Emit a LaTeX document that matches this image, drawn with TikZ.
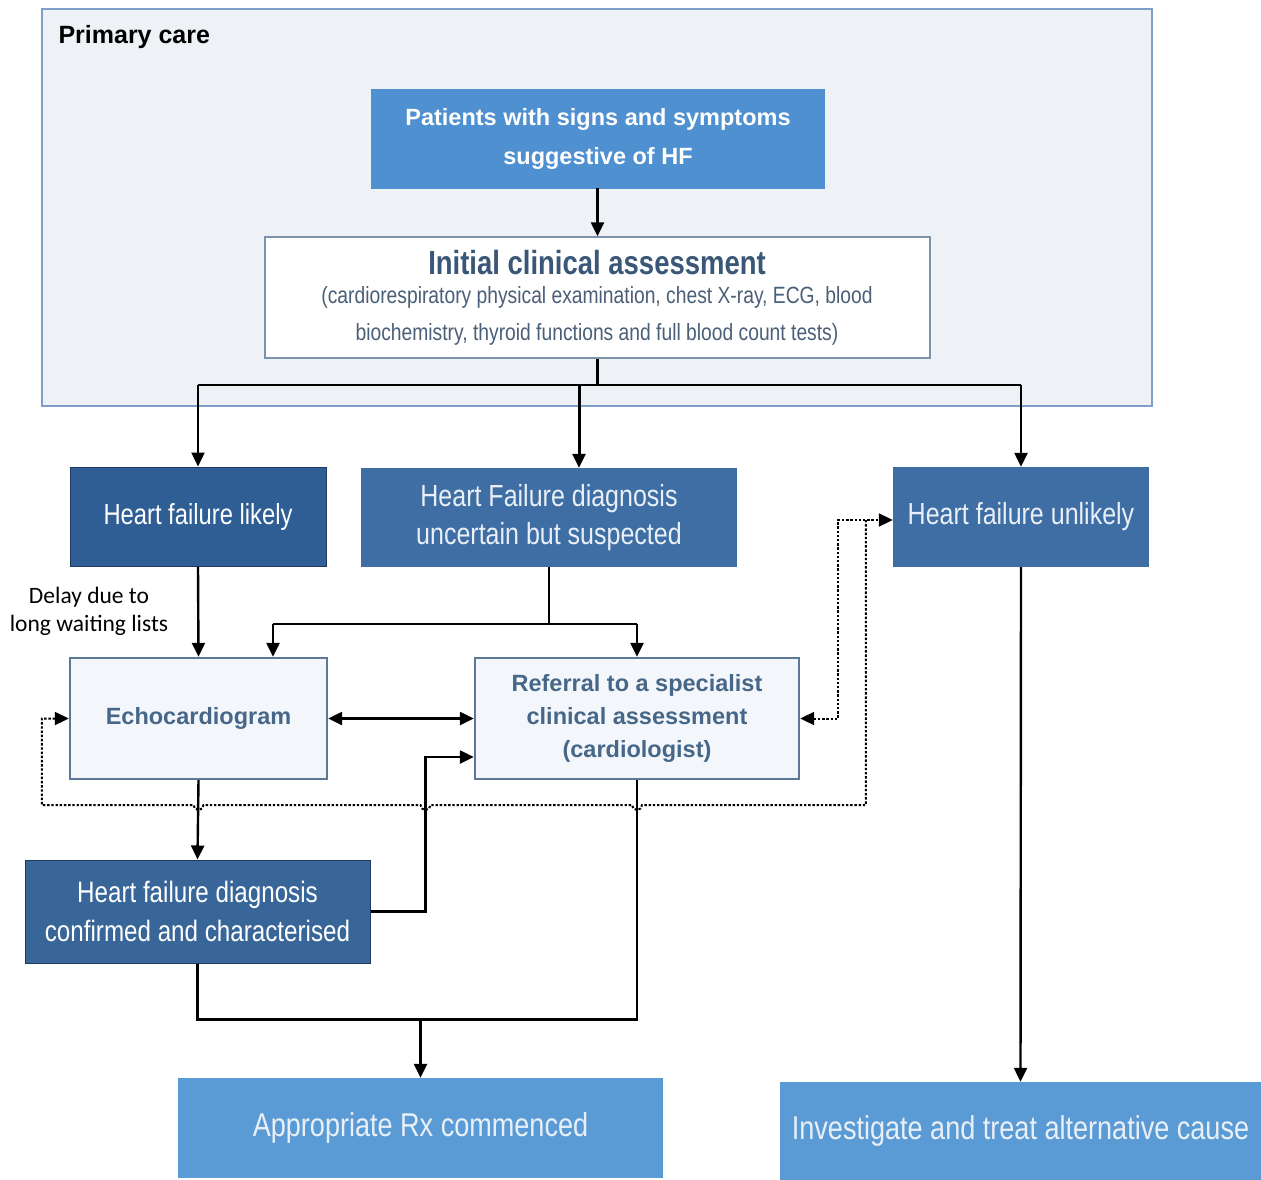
\documentclass[tikz,border=0pt]{standalone}
\usepackage{fontspec}
\setmainfont{Liberation Sans}
\newfontfamily\narrowfont{Liberation Sans}[FakeStretch=0.82]
\newfontfamily\delayfont{Carlito}
\usetikzlibrary{arrows.meta,calc}
\definecolor{pcfill}{HTML}{EEF1F5}
\definecolor{pcline}{HTML}{7F9FC8}
\definecolor{midblue}{HTML}{4F90D0}
\definecolor{lightblue}{HTML}{5B9BD5}
\definecolor{darkblue}{HTML}{2E5E93}
\definecolor{darkline}{HTML}{1F3A5E}
\definecolor{steelblue}{HTML}{3E6EA3}
\definecolor{paleline}{HTML}{5D7896}
\definecolor{palefill}{HTML}{F3F7FB}
\definecolor{titletext}{HTML}{3B5778}
\definecolor{boxtext}{HTML}{476789}
\definecolor{subtext}{HTML}{4A5F78}
\definecolor{softwhite}{HTML}{E9EFF7}
\begin{document}
\begin{tikzpicture}[x=1pt,y=-1pt,
  tip/.tip={Triangle[length=14pt,width=13pt]},
  box/.style={rectangle,inner sep=0pt,align=center},
  conn/.style={line width=2.4pt,-tip},
  plain/.style={line width=2.4pt},
  dots/.style={line width=2pt,dash pattern=on 2.4pt off 1.8pt},
  darkbox/.style={box,fill=darkblue,draw=darkline,line width=1pt,text=white},
  steelbox/.style={box,fill=steelblue,text=softwhite},
  palebox/.style={box,fill=palefill,draw=paleline,line width=2.4pt,text=boxtext},
  lightbox/.style={box,fill=lightblue,text=softwhite}]
\useasboundingbox (0,0) rectangle (1261,1180);
% primary care
\node[box,fill=pcfill,draw=pcline,line width=1.4pt,minimum width=1110pt,minimum height=397pt] (pc) at (597,207.5) {};
\node[anchor=west,font=\fontsize{25}{28}\selectfont\bfseries] (pclabel) at (55,37) {Primary care};
\node[box,fill=midblue,text=white,minimum width=454pt,minimum height=100pt,font=\fontsize{23.5}{39}\selectfont\bfseries] (pat) at (598,139) {Patients with signs and symptoms\\suggestive of HF};
\node[box,fill=white,draw=paleline!80,line width=1.4pt,minimum width=665pt,minimum height=121pt] (init) at (597.5,297.5) {};
\node[font=\narrowfont\fontsize{33.5}{38}\selectfont\bfseries,text=titletext] (inittitle) at (597,263) {Initial clinical assessment};
\node[align=center,font=\narrowfont\fontsize{23.5}{37}\selectfont,text=subtext] (initsub) at (597,316) {(cardiorespiratory physical examination, chest X-ray, ECG, blood\\biochemistry, thyroid functions and full blood count tests)};
% level 2
\node[darkbox,minimum width=256pt,minimum height=99pt,font=\narrowfont\fontsize{29}{38}\selectfont] (likely) at (198,516.5) {Heart failure likely};
\node[steelbox,minimum width=376pt,minimum height=99pt,font=\narrowfont\fontsize{30.5}{38}\selectfont] (unc) at (549,517.5) {Heart Failure diagnosis\\uncertain but suspected};
\node[steelbox,minimum width=256pt,minimum height=100pt,font=\narrowfont\fontsize{30.5}{38}\selectfont] (unl) at (1021,517) {Heart failure unlikely};
\node[align=center,font=\delayfont\fontsize{23.5}{28}\selectfont] (delay) at (89,611) {Delay due to\\long waiting lists};
% level 3
\node[palebox,minimum width=257pt,minimum height=121pt,font=\fontsize{23.5}{33}\selectfont\bfseries] (echo) at (198.5,718.5) {Echocardiogram};
\node[palebox,minimum width=324pt,minimum height=121pt,font=\fontsize{23.5}{33}\selectfont\bfseries] (ref) at (637,718.5) {Referral to a specialist\\clinical assessment\\(cardiologist)};
\node[darkbox,fill=darkblue!95!white,minimum width=345pt,minimum height=103pt,font=\narrowfont\fontsize{29.5}{39}\selectfont] (conf) at (197.5,911.5) {Heart failure diagnosis\\confirmed and characterised};
\node[lightbox,minimum width=485pt,minimum height=100pt,font=\narrowfont\fontsize{33}{40}\selectfont] (rx) at (420.5,1128) {Appropriate Rx commenced};
\node[lightbox,minimum width=481pt,minimum height=98pt,font=\narrowfont\fontsize{33}{40}\selectfont] (inv) at (1020.5,1131) {Investigate and treat alternative cause};
% junction coordinates
\coordinate (split) at ($(init.south)+(0,26)$);
\coordinate (splitL) at (likely.north |- split);
\coordinate (splitR) at (unl.north |- split);
\coordinate (splitM) at ($(unc.north |- split)+(30,0)$);
\coordinate (uncj) at ($(unc.south)+(0,57)$);
\coordinate (uncL) at ($(echo.north |- uncj)+(74.5,0)$);
\coordinate (uncR) at (ref.north |- uncj);
\coordinate (confbend) at ($(conf.east)+(55,0)$);
\coordinate (refin) at ($(ref.west)+(0,38.5)$);
\coordinate (bottomj) at ($(conf.south)+(0,56)$);
\coordinate (bottomR) at (ref.south |- bottomj);
\coordinate (rxj) at (rx.north |- bottomj);
\coordinate (dotA) at ($(ref.east)+(38,0)$);
\coordinate (dotC) at ($(unl.west)+(-27,3)$);
\coordinate (dotD) at ($(dotC)+(0,285)$);
\coordinate (dotE) at ($(echo.west)+(-27,0)$);
% connectors
\draw[conn] (pat.south) -- (init.south |- pat.south) -- (init.north);
\draw[plain] (init.south) -- (split);
\draw[plain] (splitL) -- (splitR);
\draw[conn] (splitL) -- (likely.north);
\draw[conn,line width=3pt] (splitM) -- (splitM |- unc.north);
\draw[conn] (splitR) -- (unl.north);
\draw[conn] (likely.south) -- (echo.north);
\draw[plain] (unc.south) -- (uncj);
\draw[plain] (uncL) -- (uncR);
\draw[conn] (uncL) -- (uncL |- echo.north);
\draw[conn] (uncR) -- (ref.north);
\draw[line width=2.4pt,tip-tip] (echo.east) -- (ref.west);
\draw[conn] (echo.south) -- (conf.north);
\draw[conn] (conf.east) -- (confbend) |- (refin);
\draw[plain] (conf.south) -- (bottomj) -- (bottomR) -- (ref.south);
\draw[conn] (rxj) -- (rx.north);
\draw[conn] (unl.south) -- (inv.north);
% dotted feedback connectors
\draw[dots,tip-tip] (ref.east) -- (dotA) |- ($(unl.west)+(0,3)$);
\draw[dots,-tip] (dotC) -- (dotD)
  -- ($(ref.south |- dotD)+(5,0)$) arc[start angle=0,end angle=180,radius=5]
  -- ($(confbend |- dotD)+(5,0)$) arc[start angle=0,end angle=180,radius=5]
  -- ($(echo.south |- dotD)+(5,0)$) arc[start angle=0,end angle=180,radius=5]
  -- (dotE |- dotD) -- (dotE) -- (echo.west);
\end{tikzpicture}
\end{document}
